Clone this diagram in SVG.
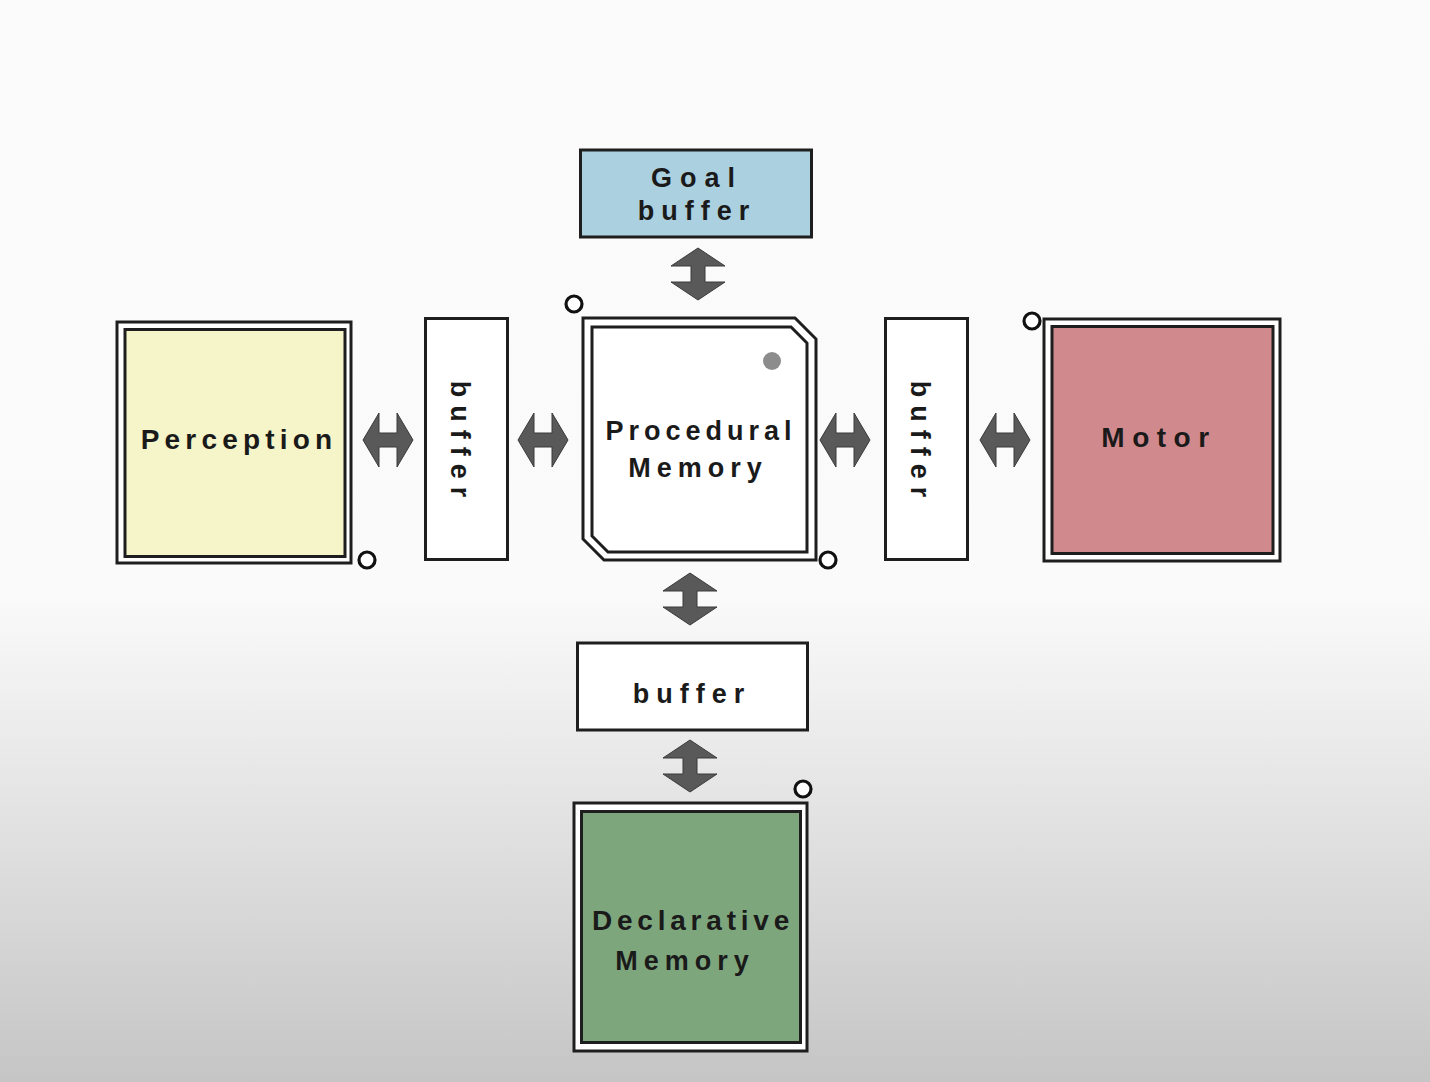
<svg xmlns="http://www.w3.org/2000/svg" width="1430" height="1082" viewBox="0 0 1430 1082">
<defs>
<linearGradient id="bg" x1="0" y1="0" x2="0" y2="1">
<stop offset="0" stop-color="#fbfbfb"/>
<stop offset="0.55" stop-color="#fafafa"/>
<stop offset="0.75" stop-color="#e3e3e3"/>
<stop offset="1" stop-color="#c5c5c5"/>
</linearGradient>
<polygon id="harrow" points="-25,0 -9,-27 -9,-7 9,-7 9,-27 25,0 9,27 9,7 -9,7 -9,27"/>
<polygon id="varrow" points="0,-26 -27,-8 -7,-8 -7,8 -27,8 0,26 27,8 7,8 7,-8 27,-8"/>
<style>
.box{stroke:#1e1e1e;stroke-width:3;}
.lbl{font-family:"Liberation Sans",Arial,sans-serif;font-weight:bold;font-size:27px;fill:#1a1a1a;text-anchor:middle;}
.arr{fill:#595959;stroke:#3a3a3a;stroke-width:1;}
.port{fill:#ffffff;stroke:#111;stroke-width:3.2;}
</style>
</defs>
<rect x="0" y="0" width="1430" height="1082" fill="url(#bg)"/>

<g id="connectors">
<use href="#varrow" class="arr" x="698" y="274"/>
<use href="#harrow" class="arr" x="388" y="440"/>
<use href="#harrow" class="arr" x="543" y="440"/>
<use href="#harrow" class="arr" x="845" y="440"/>
<use href="#harrow" class="arr" x="1005" y="440"/>
<use href="#varrow" class="arr" x="690" y="599"/>
<use href="#varrow" class="arr" x="690" y="766"/>
</g>

<g id="goal-buffer">
<rect class="box" x="580.5" y="150" width="231" height="87" fill="#abd0e0"/>
<text class="lbl" x="697" y="187" style="letter-spacing:8px">Goal</text>
<text class="lbl" x="697" y="220" style="letter-spacing:7px">buffer</text>
</g>

<g id="perception">
<rect class="box" x="117" y="322" width="234" height="241" fill="#ffffff"/>
<rect class="box" x="125" y="329.5" width="220" height="227" fill="#f6f4c9"/>
<text class="lbl" x="239" y="449" style="letter-spacing:5.2px;font-size:28px">Perception</text>
<circle class="port" cx="367" cy="560" r="8"/>
</g>

<g id="left-buffer">
<rect class="box" x="425.5" y="318.5" width="82" height="241" fill="#ffffff"/>
<text class="lbl" transform="translate(460,443) rotate(90)" x="0" y="9" style="letter-spacing:8px">buffer</text>
</g>

<g id="procedural-memory">
<path class="box" fill="#ffffff" d="M583,318 L795,318 L816,339 L816,560 L604,560 L583,539 Z"/>
<path class="box" fill="#ffffff" d="M592,327 L791,327 L807,343 L807,552 L608,552 L592,536 Z"/>
<circle cx="772" cy="361" r="9" fill="#8c8c8c"/>
<text class="lbl" x="701" y="440" style="letter-spacing:5px;font-size:27px">Procedural</text>
<text class="lbl" x="698" y="477" style="letter-spacing:6px;font-size:27px">Memory</text>
<circle class="port" cx="574" cy="304" r="8"/>
<circle class="port" cx="828" cy="560" r="8"/>
</g>

<g id="right-buffer">
<rect class="box" x="885.5" y="318.5" width="82" height="241" fill="#ffffff"/>
<text class="lbl" transform="translate(920,443) rotate(90)" x="0" y="9" style="letter-spacing:8px">buffer</text>
</g>

<g id="motor">
<rect class="box" x="1044" y="319" width="236" height="242" fill="#ffffff"/>
<rect class="box" x="1052" y="326.5" width="221" height="227" fill="#d08a8d"/>
<text class="lbl" x="1159" y="447" style="letter-spacing:7.5px;font-size:28px">Motor</text>
<circle class="port" cx="1032" cy="321" r="8"/>
</g>

<g id="declarative-buffer">
<rect class="box" x="577.5" y="643" width="230" height="87" fill="#ffffff"/>
<text class="lbl" x="692" y="703" style="letter-spacing:7px">buffer</text>
</g>

<g id="declarative-memory">
<rect class="box" x="574" y="803" width="233" height="248" fill="#ffffff"/>
<rect class="box" x="581.5" y="811.5" width="219" height="231" fill="#7ea67d"/>
<text class="lbl" x="693" y="930" style="letter-spacing:4.8px;font-size:28px">Declarative</text>
<text class="lbl" x="685" y="970" style="letter-spacing:6px;font-size:27px">Memory</text>
<circle class="port" cx="803" cy="789" r="8"/>
</g>
</svg>
